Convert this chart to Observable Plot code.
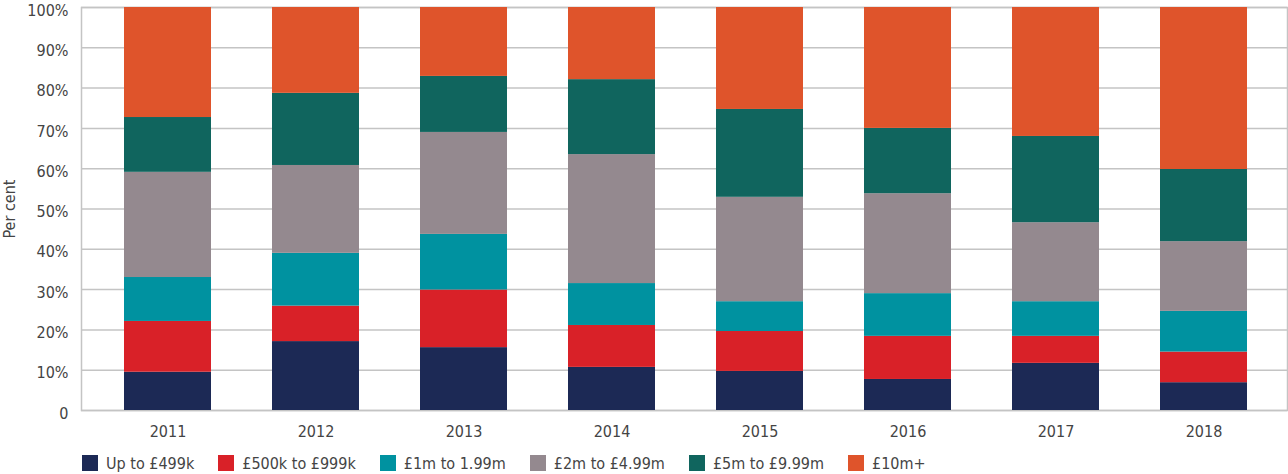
<!DOCTYPE html>
<html>
<head>
<meta charset="utf-8">
<script src="https://cdn.jsdelivr.net/npm/d3@7"></script>
<script src="https://cdn.jsdelivr.net/npm/@observablehq/plot@0.6"></script>
<style>
  body { margin: 0; background: #fff; font-family: "Liberation Sans Narrow", "DejaVu Sans Condensed", sans-serif; color: #444; }
  #legend { display: flex; align-items: center; padding-left: 82px; padding-top: 6px; height: 22px; font-size: 16px; color: #444; }
  .item { display: flex; align-items: center; margin-right: 24px; }
  .sw { width: 16px; height: 16px; margin-right: 8px; }
</style>
</head>
<body>
<div id="chart"></div>
<div id="legend"></div>
<script>
const years = ["2011", "2012", "2013", "2014", "2015", "2016", "2017", "2018"];
const categories = ["Up to £499k", "£500k to £999k", "£1m to 1.99m", "£2m to £4.99m", "£5m to £9.99m", "£10m+"];
const colors = ["#1c2955", "#d92128", "#0092a0", "#94898f", "#10655e", "#df542b"];
const upTo499k = [9.5, 17.1, 15.6, 10.7, 9.7, 7.7, 11.7, 6.9];
const k500to999k = [12.6, 8.8, 14.3, 10.4, 9.9, 10.7, 6.7, 7.6];
const m1to199 = [10.9, 13.1, 13.8, 10.4, 7.4, 10.6, 8.6, 10.1];
const m2to499 = [26.1, 21.8, 25.3, 32.0, 25.9, 24.8, 19.6, 17.3];
const m5to999 = [13.6, 17.9, 13.9, 18.6, 21.8, 16.2, 21.4, 17.9];
const m10plus = [27.3, 21.3, 17.1, 17.9, 25.3, 30.0, 32.0, 40.2];
const yTicks = [0, 10, 20, 30, 40, 50, 60, 70, 80, 90, 100];

const series = [upTo499k, k500to999k, m1to199, m2to499, m5to999, m10plus];
const data = [];
series.forEach((vals, i) => vals.forEach((v, j) => data.push({year: years[j], cat: categories[i], value: v})));

const chart = Plot.plot({
  width: 1288,
  height: 446,
  marginTop: 7,
  marginBottom: 36,
  marginLeft: 81,
  marginRight: 1,
  style: {fontFamily: '"Liberation Sans Narrow", "DejaVu Sans Condensed", sans-serif', fontSize: "16px", color: "#444", background: "#fff", overflow: "visible"},
  x: {domain: years, range: [94, 1278], paddingInner: 0.41, paddingOuter: 0.205},
  y: {domain: [0, 100]},
  color: {domain: categories, range: colors},
  marks: [
    Plot.ruleY(yTicks, {stroke: "#c4c4c4", strokeWidth: 1.5}),
    Plot.frame({stroke: "#c4c4c4", strokeWidth: 1.5}),
    Plot.barY(data, {x: "year", y: "value", fill: "cat", order: categories}),
    Plot.axisX({tickSize: 0, tickPadding: 15, label: null, fill: "#444"}),
    Plot.axisY({ticks: yTicks, tickSize: 0, tickPadding: 13, dy: 3, tickFormat: d => d === 0 ? "0" : d + "%",
      label: null, fill: "#444"}),
    Plot.axisY({ticks: [], tickSize: 0, label: "Per cent", labelAnchor: "center", labelArrow: "none", labelOffset: 78, fill: "#444"})
  ]
});
document.getElementById("chart").appendChild(chart);

const legend = document.getElementById("legend");
categories.forEach((c, i) => {
  const it = document.createElement("div");
  it.className = "item";
  const sw = document.createElement("div");
  sw.className = "sw";
  sw.style.background = colors[i];
  const t = document.createElement("span");
  t.textContent = c;
  it.appendChild(sw); it.appendChild(t);
  legend.appendChild(it);
});
</script>
</body>
</html>
